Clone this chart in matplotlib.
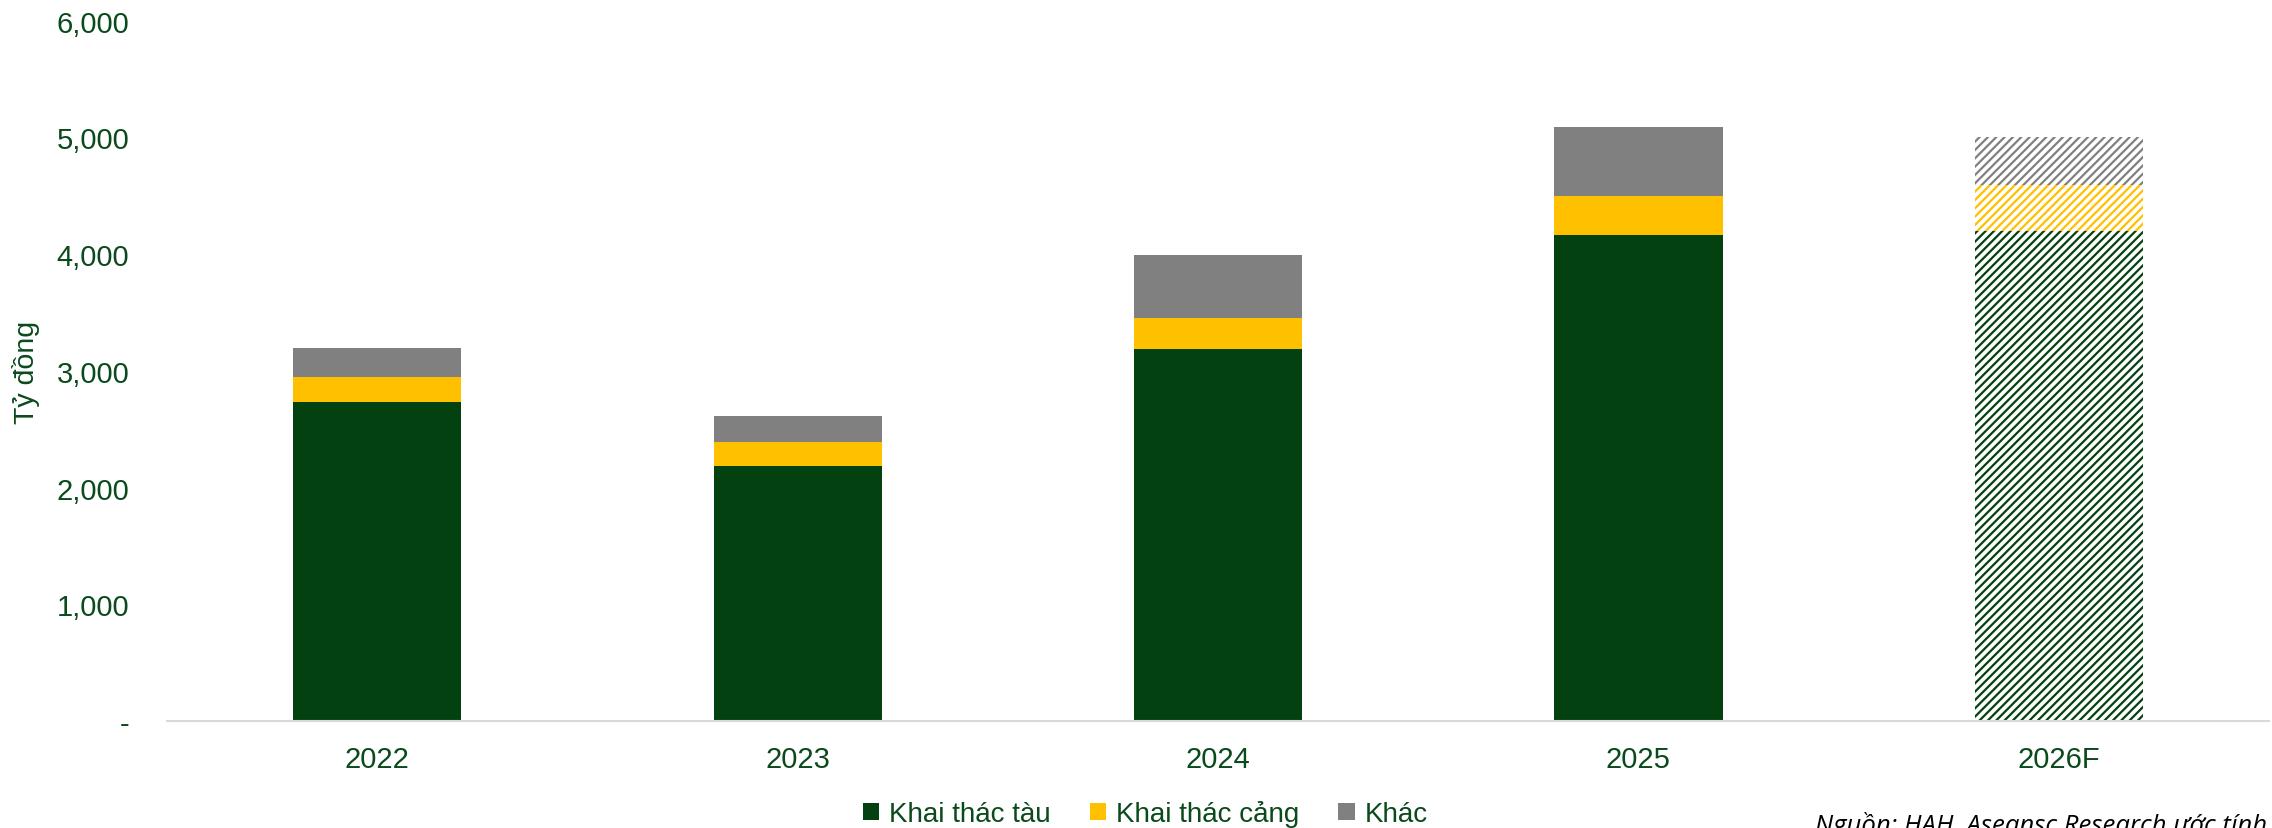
import matplotlib
matplotlib.use('Agg')
import matplotlib.pyplot as plt
from matplotlib.patches import Patch
from matplotlib.ticker import FuncFormatter

# ---- data ----
years = ['2022', '2023', '2024', '2025', '2026F']
khai_thac_tau = [2730, 2185, 3187, 4160, 4195]
khai_thac_cang = [217, 201, 264, 341, 400]
khac = [252, 223, 541, 590, 405]
is_forecast = [False, False, False, False, True]
series_names = ['Khai thác tàu', 'Khai thác cảng', 'Khác']
y_ticks = [0, 1000, 2000, 3000, 4000, 5000, 6000]

# ---- style ----
GREEN = '#034210'
YELLOW = '#FFC000'
GRAY = '#808080'
TEXT_GREEN = '#0B4A1C'
colors = [GREEN, YELLOW, GRAY]

plt.rcParams['font.family'] = ['Liberation Sans', 'DejaVu Sans']
plt.rcParams['hatch.linewidth'] = 1.6

fig = plt.figure(figsize=(22.72, 8.29), dpi=100)
ax = fig.add_axes([0.0735, 0.129, 0.9252, 0.845])

x = list(range(len(years)))
width = 0.4
bottom = [0] * len(years)
for vals, col in zip([khai_thac_tau, khai_thac_cang, khac], colors):
    for i in x:
        if is_forecast[i]:
            ax.bar(i, vals[i], width, bottom=bottom[i], facecolor='white',
                   edgecolor=col, hatch='////', linewidth=0)
        else:
            ax.bar(i, vals[i], width, bottom=bottom[i], color=col, linewidth=0)
    bottom = [b + v for b, v in zip(bottom, vals)]

ax.set_xlim(-0.5, len(years) - 0.5)
ax.set_ylim(0, 6000)
ax.set_yticks(y_ticks)
ax.yaxis.set_major_formatter(FuncFormatter(lambda v, p: '-' if v == 0 else f'{v:,.0f}'))
ax.set_xticks(x)
ax.set_xticklabels(years)

for s in ['top', 'right', 'left']:
    ax.spines[s].set_visible(False)
ax.spines['bottom'].set_color('#D9D9D9')
ax.spines['bottom'].set_linewidth(1.5)

ax.tick_params(axis='y', length=0, pad=27, labelsize=21, labelcolor=TEXT_GREEN)
ax.tick_params(axis='x', length=0, pad=17, labelsize=21, labelcolor=TEXT_GREEN)

fig.text(0.0115, 0.551, 'Tỷ đồng', rotation=90, va='center', ha='center',
         fontsize=20.5, color=TEXT_GREEN)

handles = [Patch(facecolor=c, edgecolor='none') for c in colors]
leg = fig.legend(handles, series_names, loc='center', bbox_to_anchor=(0.504, 0.017),
                 ncol=3, frameon=False, handlelength=0.6, handleheight=0.6,
                 handletextpad=0.35, columnspacing=1.4,
                 prop={'size': 20})
for t in leg.get_texts():
    t.set_color(TEXT_GREEN)

fig.text(0.998, -0.012, 'Nguồn: HAH, Aseansc Research ước tính', ha='right', va='bottom',
         fontsize=18.5, style='italic', color='black', family=['Open Sans', 'DejaVu Sans'])

fig.savefig('out.png', dpi=100)
